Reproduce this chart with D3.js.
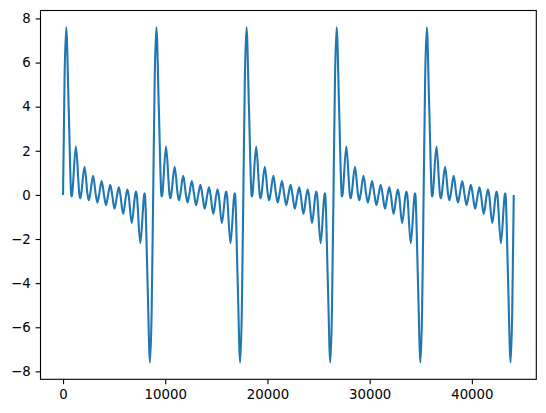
<!DOCTYPE html>
<html>
<head>
<meta charset="utf-8">
<script src="https://cdn.jsdelivr.net/npm/d3@7"></script>
<style>
  body { margin: 0; background: #fff; }
  .tick text { font-family: "DejaVu Sans", sans-serif; font-size: 13.3px; fill: #000; }
  .tick line { stroke: #000; stroke-width: 1.1px; }
  .domain { display: none; }
</style>
</head>
<body>
<div id="chart"></div>
<script>
// one cycle of the wave (sample offset, value)
var cycleT = [0, 150, 311, 550, 802, 840, 882, 1260, 1604, 1680, 1764, 2100, 2405, 2520, 2646,
    2940, 3207, 3360, 3528, 3780, 4009, 4200, 4410, 4620, 4811, 5040, 5292, 5460, 5613, 5880,
    6174, 6300, 6415, 6720, 7056, 7140, 7216, 7560, 7938, 7980, 8018, 8270, 8509, 8670, 8820];
var cycleY = [0, 5.29, 7.6, 3.97, 0, -0.075, 0, 2.19, 0, -0.154, 0, 1.274, 0, -0.241, 0,
    0.866, 0, -0.341, 0, 0.627, 0, -0.464, 0, 0.463, 0, -0.627, 0, 0.341, 0, -0.866,
    0, 0.241, 0, -1.274, 0, 0.156, 0, -2.19, 0, 0.076, 0, -3.97, -7.6, -5.29, 0];
// start sample of each of the five cycles
var cycleStarts = [0, 8820, 17640, 26460, 35280];

var xTicks = [0, 10000, 20000, 30000, 40000];
var yTicks = [-8, -6, -4, -2, 0, 2, 4, 6, 8];

var data = [];
cycleStarts.forEach(function (s, i) {
    cycleT.forEach(function (t, j) {
        if (i > 0 && j == 0) return;
        data.push({ t: s + t, v: cycleY[j] });
    });
});

var margin = { top: 10.5, right: 9.7, bottom: 33.7, left: 40.5 };
var width = 546 - margin.left - margin.right;
var height = 413 - margin.top - margin.bottom;

var svg = d3.select('#chart').append('svg')
    .attr("width", 546)
    .attr("height", 413)

var g = svg.append("g")
    .attr("transform", "translate(" + margin.left + "," + margin.top + ")")

var x = d3.scaleLinear()
    .domain([-2205, 46305])
    .range([0, width]);

var y = d3.scaleLinear()
    .domain([-8.36, 8.36])
    .range([height, 0]);

g.append('g')
    .attr("transform", "translate(0, " + height + ")")
    .call(d3.axisBottom(x).tickValues(xTicks).tickFormat(d3.format("d")).tickSize(4.9).tickPadding(4.9))

g.append('g')
    .call(d3.axisLeft(y).tickValues(yTicks).tickSize(4.9).tickPadding(4.9))

var valueline = d3.line()
    .curve(d3.curveMonotoneX)
    .x(function (d) { return x(d.t); })
    .y(function (d) { return y(d.v); })

g.append("path")
    .datum(data)
    .attr("d", valueline)
    .attr("stroke", "#1f77b4")
    .attr("fill", "none")
    .attr("stroke-width", "2.1px")
    .attr("stroke-linejoin", "round")

// axes frame
g.append("rect")
    .attr("width", width)
    .attr("height", height)
    .attr("fill", "none")
    .attr("stroke", "#000")
    .attr("stroke-width", "1.1px")
</script>
</body>
</html>
